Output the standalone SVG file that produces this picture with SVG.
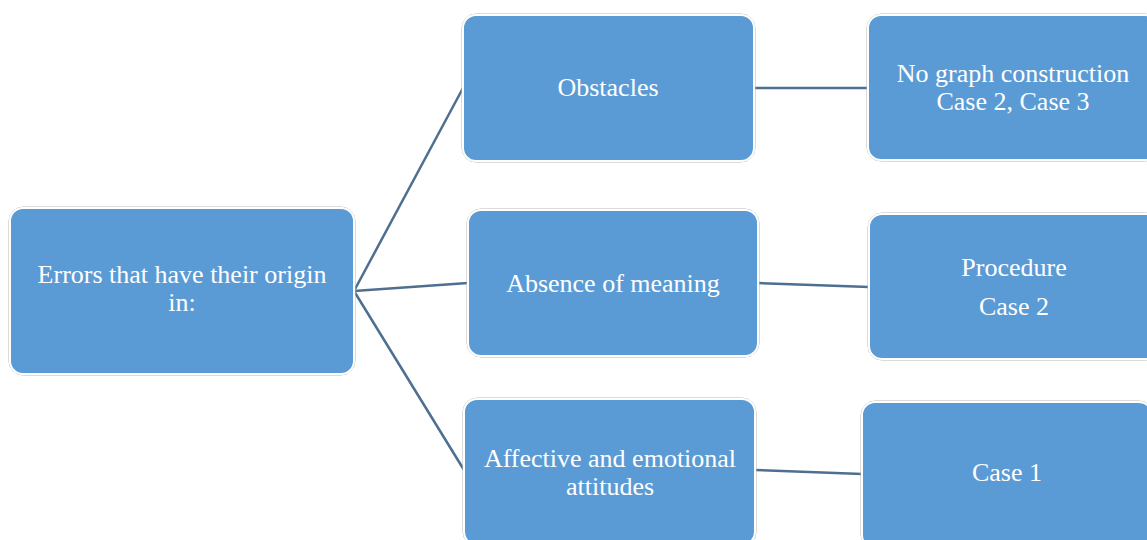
<svg xmlns="http://www.w3.org/2000/svg" width="1147" height="540" viewBox="0 0 1147 540">
<style>
.box{fill:#5b9bd5;stroke:#ffffff;stroke-width:2}
.outer{fill:none;stroke:#b8b8b8;stroke-width:1}
.t{font-family:"Liberation Serif","Times New Roman",serif;font-size:26px;fill:#ffffff;text-anchor:middle}
.c{stroke:#4e6f8f;stroke-width:2.5;fill:none}
</style>
<rect width="1147" height="540" fill="#ffffff"/>
<g id="connectors">
<line class="c" x1="354" y1="291" x2="463" y2="88"/>
<line class="c" x1="354" y1="291" x2="468" y2="283"/>
<line class="c" x1="354" y1="291" x2="464" y2="470"/>
<line class="c" x1="754" y1="88" x2="868" y2="88"/>
<line class="c" x1="758" y1="283" x2="869" y2="287"/>
<line class="c" x1="755" y1="470" x2="862" y2="474"/>
</g>
<g id="root">
<rect class="outer" x="9" y="207" width="346" height="168" rx="14"/>
<rect class="box" x="10" y="208" width="344" height="166" rx="13"/>
<text class="t" x="182" y="283">Errors that have their origin</text>
<text class="t" x="182" y="311">in:</text>
</g>
<g id="obstacles">
<rect class="outer" x="462" y="14" width="293" height="148" rx="14"/>
<rect class="box" x="463" y="15" width="291" height="146" rx="13"/>
<text class="t" x="608" y="96">Obstacles</text>
</g>
<g id="nograph">
<rect class="outer" x="867" y="14" width="292" height="147" rx="14"/>
<rect class="box" x="868" y="15" width="290" height="145" rx="13"/>
<text class="t" x="1013" y="82">No graph construction</text>
<text class="t" x="1013" y="110">Case 2, Case 3</text>
</g>
<g id="absence">
<rect class="outer" x="467" y="209" width="292" height="148" rx="14"/>
<rect class="box" x="468" y="210" width="290" height="146" rx="13"/>
<text class="t" x="613" y="292">Absence  of meaning</text>
</g>
<g id="procedure">
<rect class="outer" x="868" y="213" width="292" height="147" rx="14"/>
<rect class="box" x="869" y="214" width="290" height="145" rx="13"/>
<text class="t" x="1014" y="276">Procedure</text>
<text class="t" x="1014" y="315">Case 2</text>
</g>
<g id="affective">
<rect class="outer" x="463" y="398" width="293" height="148" rx="14"/>
<rect class="box" x="464" y="399" width="291" height="146" rx="13"/>
<text class="t" x="610" y="467">Affective and emotional</text>
<text class="t" x="610" y="495">attitudes</text>
</g>
<g id="case1">
<rect class="outer" x="861" y="401" width="292" height="148" rx="14"/>
<rect class="box" x="862" y="402" width="290" height="146" rx="13"/>
<text class="t" x="1007" y="481">Case 1</text>
</g>
</svg>
